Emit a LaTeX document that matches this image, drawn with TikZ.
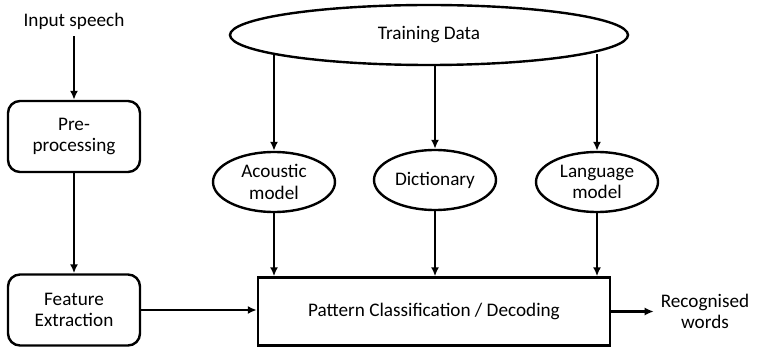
\documentclass[tikz,border=0pt]{standalone}
\usepackage{fontspec}
\setmainfont{Carlito}
\usetikzlibrary{arrows.meta,positioning,shapes.geometric}

\begin{document}
\begin{tikzpicture}[
  x=0.5pt,y=-0.5pt,
  every node/.style={font=\fontsize{9.6}{10.8}\selectfont},
  procbox/.style={rounded corners=6pt,draw,line width=1.2pt,
                  minimum width=66pt,minimum height=35.5pt,align=center},
  decoder/.style={draw,line width=1.2pt,minimum width=176pt,minimum height=34pt},
  model/.style={ellipse,draw,line width=1.2pt,inner sep=0pt,
                minimum width=61pt,minimum height=30pt,align=center},
  arrow/.style={-{Latex[length=4.5pt,width=4pt]},line width=1.2pt}
]
\useasboundingbox (0,0) rectangle (765,347);
\node (speech) at (74,21) {Input speech};
\node[procbox] (pre) at (74,136.5) {Pre-\\processing};
\node[procbox] (feat) at (74,310) {Feature\\Extraction};
\node[ellipse,draw,line width=1.2pt,minimum width=199pt,minimum height=30pt] (train) at (429,35) {Training Data};
\node[model] (acoustic) at (274,182) {Acoustic\\model};
\node[model] (dict) at (435,180) {Dictionary};
\node[model] (lang) at (597,182) {Language\\model};
\node[decoder] (decode) at (434,311.5) {Pattern Classification / Decoding};
\node[align=center] (words) at (705,311.5) {Recognised\\words};
\draw[arrow] (speech) -- (pre);
\draw[arrow] (pre) -- (feat);
\draw[arrow] (feat) -- (feat -| decode.west);
\draw[arrow] (train.187 -| acoustic) -- (acoustic);
\draw[arrow] (train.south -| dict) -- (dict);
\draw[arrow] (train.353 -| lang) -- (lang);
\draw[arrow] (acoustic) -- (acoustic |- decode.north);
\draw[arrow] (dict) -- (dict |- decode.north);
\draw[arrow] (lang) -- (lang |- decode.north);
\draw[arrow] (decode) -- (words);
\end{tikzpicture}
\end{document}
